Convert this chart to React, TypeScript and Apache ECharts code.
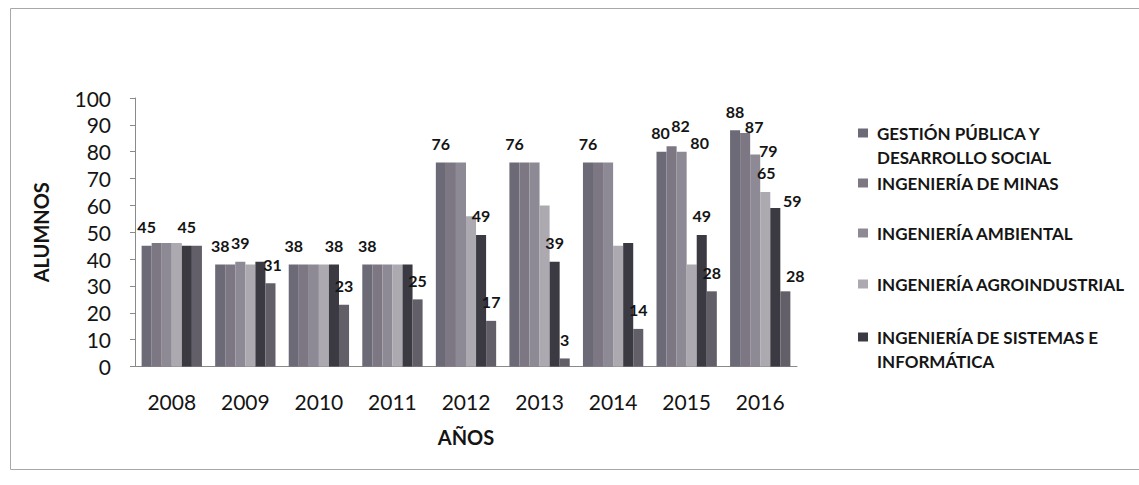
import React, { useEffect, useRef } from "react";
import * as echarts from "echarts";

const years = ["2008", "2009", "2010", "2011", "2012", "2013", "2014", "2015", "2016"];

const seriesNames = [
  "GESTIÓN PÚBLICA Y DESARROLLO SOCIAL",
  "INGENIERÍA DE MINAS",
  "INGENIERÍA AMBIENTAL",
  "INGENIERÍA AGROINDUSTRIAL",
  "INGENIERÍA DE SISTEMAS E INFORMÁTICA",
  "SERIE 6",
];

const legendLines = [
  "\nGESTIÓN PÚBLICA Y\nDESARROLLO SOCIAL",
  "INGENIERÍA DE MINAS",
  "INGENIERÍA AMBIENTAL",
  "INGENIERÍA AGROINDUSTRIAL",
  "\nINGENIERÍA DE SISTEMAS E\nINFORMÁTICA",
];

const gestion = [45, 38, 38, 38, 76, 76, 76, 80, 88];
const minas = [46, 38, 38, 38, 76, 76, 76, 82, 87];
const ambiental = [46, 39, 38, 38, 76, 76, 76, 80, 79];
const agroindustrial = [46, 38, 38, 38, 56, 60, 45, 38, 65];
const sistemas = [45, 39, 38, 38, 49, 39, 46, 49, 59];
const serie6 = [45, 31, 23, 25, 17, 3, 14, 28, 28];

const allValues = [gestion, minas, ambiental, agroindustrial, sistemas, serie6];

// which data labels are shown (null = hidden), with a small [dx, dy] nudge
const labelsGestion = [[0, 0], [0, 0], [0, 0], [0, 0], [0, 0], [0, 0], [0, 0], [-1, 0], [0, 0]];
const labelsMinas = [null, null, null, null, null, null, null, [9, -2], [9, 13]];
const labelsAmbiental = [null, [0, 0], null, null, null, null, null, [18, 10], [13, 15]];
const labelsAgro = [null, null, null, null, null, null, null, null, [1, 0]];
const labelsSistemas = [[0, 0], null, [0, 0], null, [0, 0], [0, 0], null, [0, 0], [17, 11]];
const labelsSerie6 = [null, [2, 0], [0, 0], [0, 0], [0, 0], [0, 0], [0, 0], [0, 0], [10, 3]];

const allLabels = [labelsGestion, labelsMinas, labelsAmbiental, labelsAgro, labelsSistemas, labelsSerie6];

const colors = ["#6c6a76", "#7d7784", "#8e8a95", "#aca9b0", "#3b3a42", "#625f68"];

const FONT = 'Lato, "Open Sans", "DejaVu Sans", sans-serif';

export default function App() {
  const ref = useRef<HTMLDivElement>(null);

  useEffect(() => {
    if (!ref.current) return;
    const chart = echarts.init(ref.current, undefined, { renderer: "svg" });

    const series = allValues.map((vals, si) => ({
      name: seriesNames[si],
      type: "bar",
      barGap: "0%",
      barCategoryGap: "18%",
      itemStyle: { color: colors[si] },
      label: {
        show: false,
        position: "top",
        distance: 11,
        fontFamily: FONT,
        fontWeight: "bold",
        fontSize: 16,
        color: "#141414",
      },
      emphasis: { disabled: true },
      data: vals.map((v, i) => {
        const l = allLabels[si][i];
        return l
          ? { value: v, label: { show: true, offset: l } }
          : { value: v };
      }),
    }));

    const legendTops = [97, 171, 221, 272, 301];
    const legends = legendLines.map((txt, i) => ({
      orient: "vertical",
      left: 858,
      top: legendTops[i],
      padding: 0,
      icon: "rect",
      itemWidth: 10,
      itemHeight: 9,
      selectedMode: false,
      data: [seriesNames[i]],
      formatter: () => txt,
      textStyle: {
        fontFamily: FONT,
        fontWeight: "bold",
        fontSize: 17,
        lineHeight: 24,
        color: "#151515",
        padding: [0, 0, 0, 4],
      },
    }));

    chart.setOption({
      animation: false,
      backgroundColor: "#ffffff",
      color: colors,
      graphic: [
        {
          type: "rect",
          shape: { x: 10.5, y: 8.5, width: 1140, height: 461 },
          style: { fill: "none", stroke: "#a8a8a8", lineWidth: 1 },
          silent: true,
        },
      ],
      legend: legends,
      grid: { left: 135, top: 98, width: 662, height: 268.5 },
      xAxis: {
        type: "category",
        data: years,
        name: "AÑOS",
        nameLocation: "middle",
        nameGap: 60,
        nameTextStyle: { fontFamily: FONT, fontWeight: "bold", fontSize: 20, color: "#141414" },
        axisLine: { show: true, lineStyle: { color: "#8a8a8a", width: 1 } },
        axisTick: { show: false },
        axisLabel: { fontFamily: FONT, fontSize: 21, color: "#141414", margin: 24 },
      },
      yAxis: {
        type: "value",
        min: 0,
        max: 100,
        interval: 10,
        name: "ALUMNOS",
        nameLocation: "middle",
        nameGap: 84,
        nameTextStyle: { fontFamily: FONT, fontWeight: "bold", fontSize: 20, color: "#141414" },
        axisLine: { show: true, lineStyle: { color: "#8a8a8a", width: 1 } },
        axisTick: { show: true, length: 5, lineStyle: { color: "#8a8a8a" } },
        splitLine: { show: false },
        axisLabel: { fontFamily: FONT, fontSize: 21, color: "#141414", margin: 24 },
      },
      series,
    });

    return () => chart.dispose();
  }, []);

  return (
    <div
      ref={ref}
      style={{ position: "absolute", left: 0, top: 0, width: 1139, height: 485 }}
    />
  );
}
